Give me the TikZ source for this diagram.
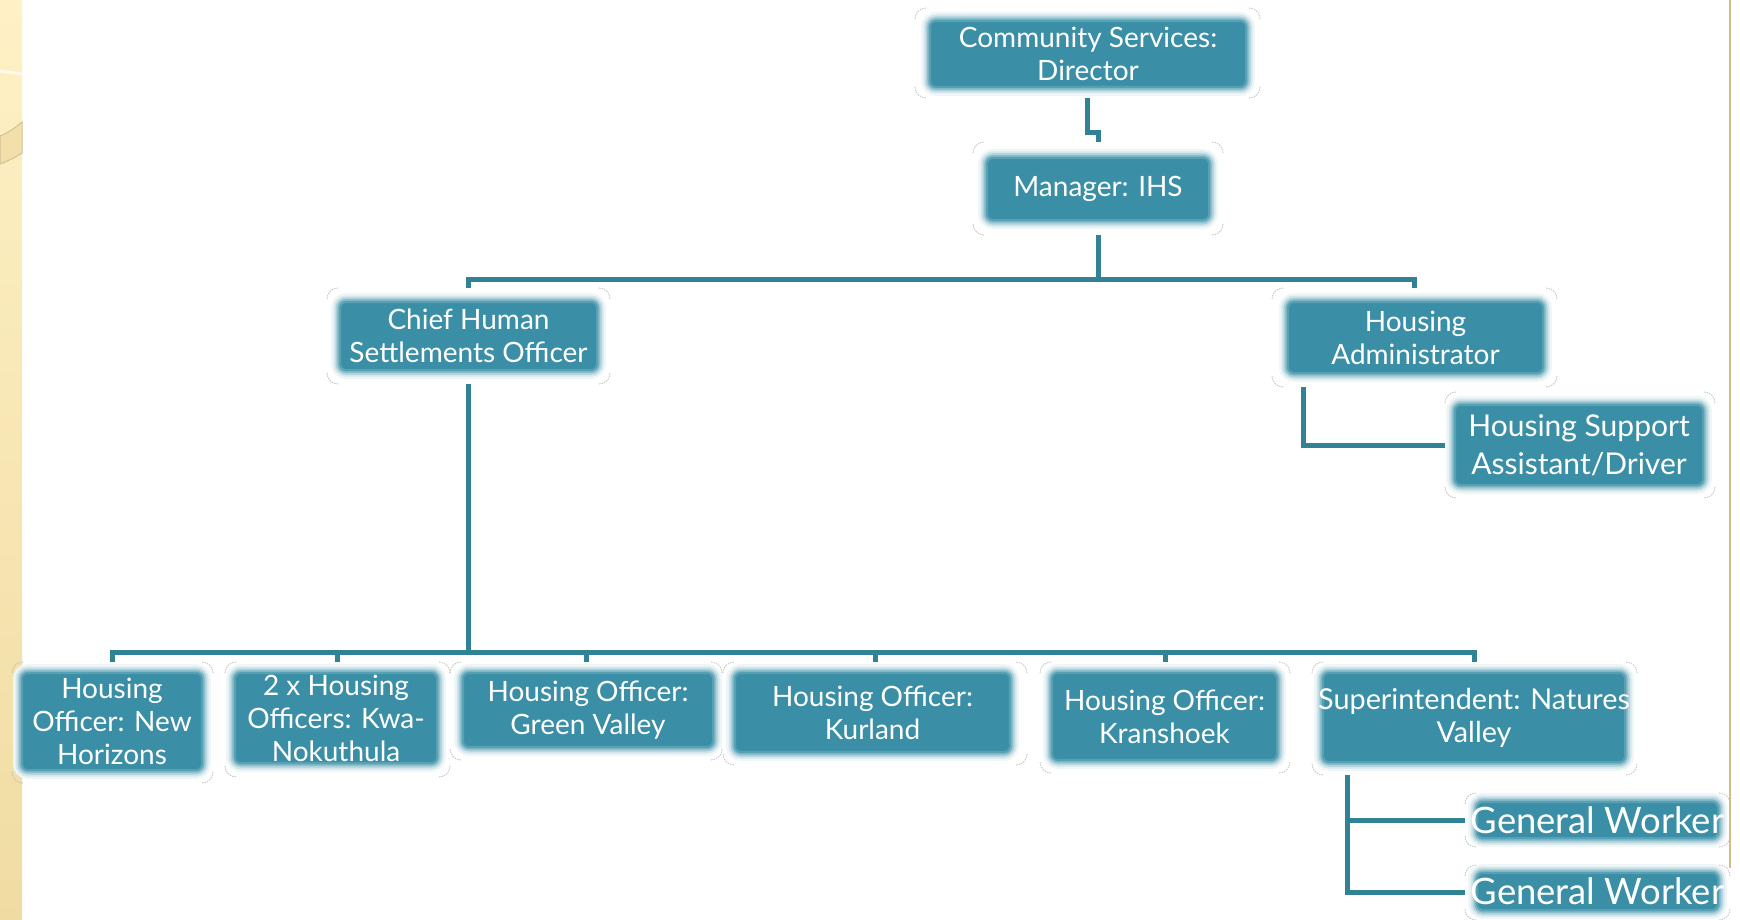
\documentclass[tikz,border=0pt]{standalone}
\usepackage{fontspec}
\setmainfont{Lato}
\usetikzlibrary{fit,calc}
\definecolor{boxteal}{RGB}{58,143,166}
\definecolor{linecol}{RGB}{49,130,148}
\definecolor{stripTop}{RGB}{254,241,197}
\definecolor{stripBot}{RGB}{240,220,163}
\definecolor{bandcol}{RGB}{243,223,170}
\definecolor{bandedge}{RGB}{210,192,150}
\definecolor{goldline}{RGB}{214,188,132}
\newlength\crad \setlength\crad{5.5pt}
\newcommand\frmcorners[1]{%
  \draw[frmline] ([yshift=-\crad]#1.north west) arc[start angle=180,end angle=90,radius=\crad];
  \draw[frmline] ([xshift=-\crad]#1.north east) arc[start angle=90,end angle=0,radius=\crad];
  \draw[frmline] ([yshift=\crad]#1.south east) arc[start angle=0,end angle=-90,radius=\crad];
  \draw[frmline] ([xshift=\crad]#1.south west) arc[start angle=270,end angle=180,radius=\crad];
}
\newcommand\orgbox[7]{%
  \node[frm, fit={(#4) (#5)}] (#1f) {};
  \frmcorners{#1f}
  \node[tbox, fit={(#2) (#3)}] (#1) {};
  \node[txt,#6] (#1t) at (#1.center) {#7};
}
\begin{document}
\begin{tikzpicture}[x=0.5pt,y=-0.5pt,
  frm/.style={draw=none, inner sep=0pt, outer sep=0pt, rectangle},
  frmline/.style={draw=gray!50, line width=0.4pt, dash pattern=on 0.8pt off 0.5pt},
  tbox/.style={rectangle, inner sep=0pt, outer sep=0pt, rounded corners=3pt,
    preaction={draw=boxteal!8!white, line width=9pt},
    preaction={draw=boxteal!22!white, line width=6.5pt},
    preaction={draw=boxteal!42!white, line width=4.5pt},
    preaction={draw=boxteal!65!white, line width=2.6pt},
    fill=boxteal, draw=boxteal!85!white, line width=1pt},
  txt/.style={text=white, align=center, inner sep=0pt,
    font=\fontsize{14}{16.5}\selectfont},
  gwtxt/.style={font=\fontsize{18.2}{19}\selectfont},
  hstxt/.style={font=\fontsize{15}{19}\selectfont},
  suptxt/.style={font=\fontsize{14.4}{16.5}\selectfont},
  conn/.style={draw=linecol, line width=2.5pt}]
\useasboundingbox (0,0) rectangle (1740,920);
% background decorations
\shade[top color=stripTop, bottom color=stripBot] (0,0) rectangle (22,920);
\draw[white!60!stripTop, line width=1.5pt] (0,71) -- (22,74);
\filldraw[fill=bandcol, draw=bandedge, line width=0.5pt]
  (0,136) .. controls (10,132) and (16,127) .. (22,122) -- (22,153)
  .. controls (14,158) and (8,161) .. (0,164) -- cycle;
\draw[goldline, line width=0.8pt] (1730,0) -- (1730,868);

% boxes
\orgbox{cs}{930,21}{1246,87}{915,8}{1260,98}{}{Community Services:\\Director}
\orgbox{mgr}{987,158}{1209,220}{973,142}{1223,235}{}{Manager: IHS}
\orgbox{chief}{340,302}{597,370}{327,288}{610,384}{}{Chief Human\\Settlements Officer}
\orgbox{hadmin}{1288,302}{1543,373}{1272,288}{1557,387}{}{Housing\\Administrator}
\orgbox{hsupp}{1455,405}{1703,485}{1445,392}{1715,498}{hstxt}{Housing Support\\Assistant/Driver}
\orgbox{hoa}{22,673}{202,770}{12,662}{213,783}{}{Housing\\Officer: New\\Horizons}
\orgbox{hob}{235,673}{437,763}{225,662}{450,777}{}{2 x Housing\\Officers: Kwa-\\Nokuthula}
\orgbox{hoc}{463,673}{713,747}{450,662}{722,760}{}{Housing Officer:\\Green Valley}
\orgbox{hod}{735,673}{1010,752}{723,662}{1027,765}{}{Housing Officer:\\Kurland}
\orgbox{hoe}{1052,673}{1277,760}{1040,662}{1290,773}{}{Housing Officer:\\Kranshoek}
\orgbox{sup}{1323,673}{1625,762}{1312,662}{1637,775}{suptxt}{Superintendent: Natures\\Valley}
\orgbox{gwa}{1477,802}{1718,838}{1465,793}{1730,847}{gwtxt}{General Worker}
\orgbox{gwb}{1477,873}{1718,910}{1465,865}{1730,920}{gwtxt}{General Worker}

% connectors
\draw[conn] (csf.south) -- ++(0,35) -| (mgrf.north);
\coordinate (busa) at (mgrf.south |- 0,279);
\draw[conn] (mgrf.south) -- (busa);
\draw[conn] (chieff.north) |- (busa) -| (hadminf.north);
\draw[conn] ([xshift=15.5pt]hadminf.south west) |- (hsuppf.west);
\coordinate (busb) at (chieff.south |- 0,652);
\draw[conn] (chieff.south) -- (busb);
\draw[conn] (hoaf.north) |- (busb) -| (supf.north);
\draw[conn] (hobf.north) -- (hobf.north |- busb);
\draw[conn] (hocf.north) -- (hocf.north |- busb);
\draw[conn] (hodf.north) -- (hodf.north |- busb);
\draw[conn] (hoef.north) -- (hoef.north |- busb);
\draw[conn] ([xshift=17.5pt]supf.south west) |- (gwaf.west);
\draw[conn] ([xshift=17.5pt]supf.south west) |- (gwbf.west);
\end{tikzpicture}
\end{document}
